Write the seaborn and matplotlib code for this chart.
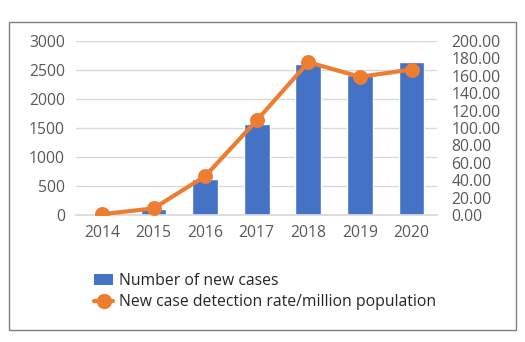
import matplotlib
matplotlib.use("Agg")
import matplotlib.pyplot as plt
from matplotlib.lines import Line2D
from matplotlib.patches import Patch, Rectangle
import seaborn as sns
import pandas as pd

years = ["2014", "2015", "2016", "2017", "2018", "2019", "2020"]
new_cases = [15, 103, 631, 1572, 2611, 2410, 2639]
detection_rate = [1.0, 7.7, 44.7, 108.8, 175.7, 158.9, 167.3]

left_ticks = [0, 500, 1000, 1500, 2000, 2500, 3000]
right_ticks = [0, 20, 40, 60, 80, 100, 120, 140, 160, 180, 200]

bar_label = "Number of new cases"
line_label = "New case detection rate/million population"

BLUE = "#4472C4"
ORANGE = "#ED7D31"
TEXT = "#595959"
GRID = "#D9D9D9"
FS = 11.3

sns.set_theme(style="white")
plt.rcParams["font.family"] = ["Open Sans", "DejaVu Sans"]

df = pd.DataFrame({"year": years, "cases": new_cases, "rate": detection_rate})

fig = plt.figure(figsize=(5.25, 3.42), dpi=100)
ax = fig.add_axes([0.145, 0.371, 0.688, 0.509])

sns.barplot(data=df, x="year", y="cases", color=BLUE, width=0.5,
            saturation=1, ax=ax, zorder=2)
ax.set_ylim(0, 3000)
ax.set_yticks(left_ticks)
ax.yaxis.grid(True, color=GRID, linewidth=1)
ax.set_axisbelow(True)
ax.set_xlabel("")
ax.set_ylabel("")
for s in ["top", "right", "left"]:
    ax.spines[s].set_visible(False)
ax.spines["bottom"].set_color(GRID)
ax.tick_params(axis="both", length=0, labelsize=FS, labelcolor=TEXT)
ax.tick_params(axis="x", pad=7)
ax.tick_params(axis="y", pad=8)

ax2 = ax.twinx()
sns.pointplot(data=df, x="year", y="rate", color=ORANGE, ax=ax2,
              markers="o", linestyles="-", markersize=8.5, linewidth=3)
ax2.set_ylim(0, 200)
ax2.set_yticks(right_ticks)
ax2.set_yticklabels([f"{v:.2f}" for v in right_ticks])
ax2.set_ylabel("")
ax2.set_xlabel("")
for s in ["top", "right", "left", "bottom"]:
    ax2.spines[s].set_visible(False)
ax2.tick_params(axis="y", length=0, labelsize=FS, labelcolor=TEXT, pad=10)
ax.set_xlim(-0.5, len(years) - 0.5)

handles = [
    Patch(facecolor=BLUE, edgecolor="none"),
    Line2D([0], [0], color=ORANGE, linewidth=3, marker="o", markersize=10),
]
fig.legend(handles, [bar_label, line_label], loc="upper left",
           bbox_to_anchor=(0.165, 0.225), frameon=False, fontsize=FS,
           labelcolor="#262626", handlelength=1.2, handletextpad=0.35,
           labelspacing=0.35, borderpad=0)

fig.patches.append(Rectangle((0.017, 0.035), 0.966, 0.9006,
                             transform=fig.transFigure, fill=False,
                             edgecolor="#7F7F7F", linewidth=1))

fig.savefig("out.png", dpi=100)
